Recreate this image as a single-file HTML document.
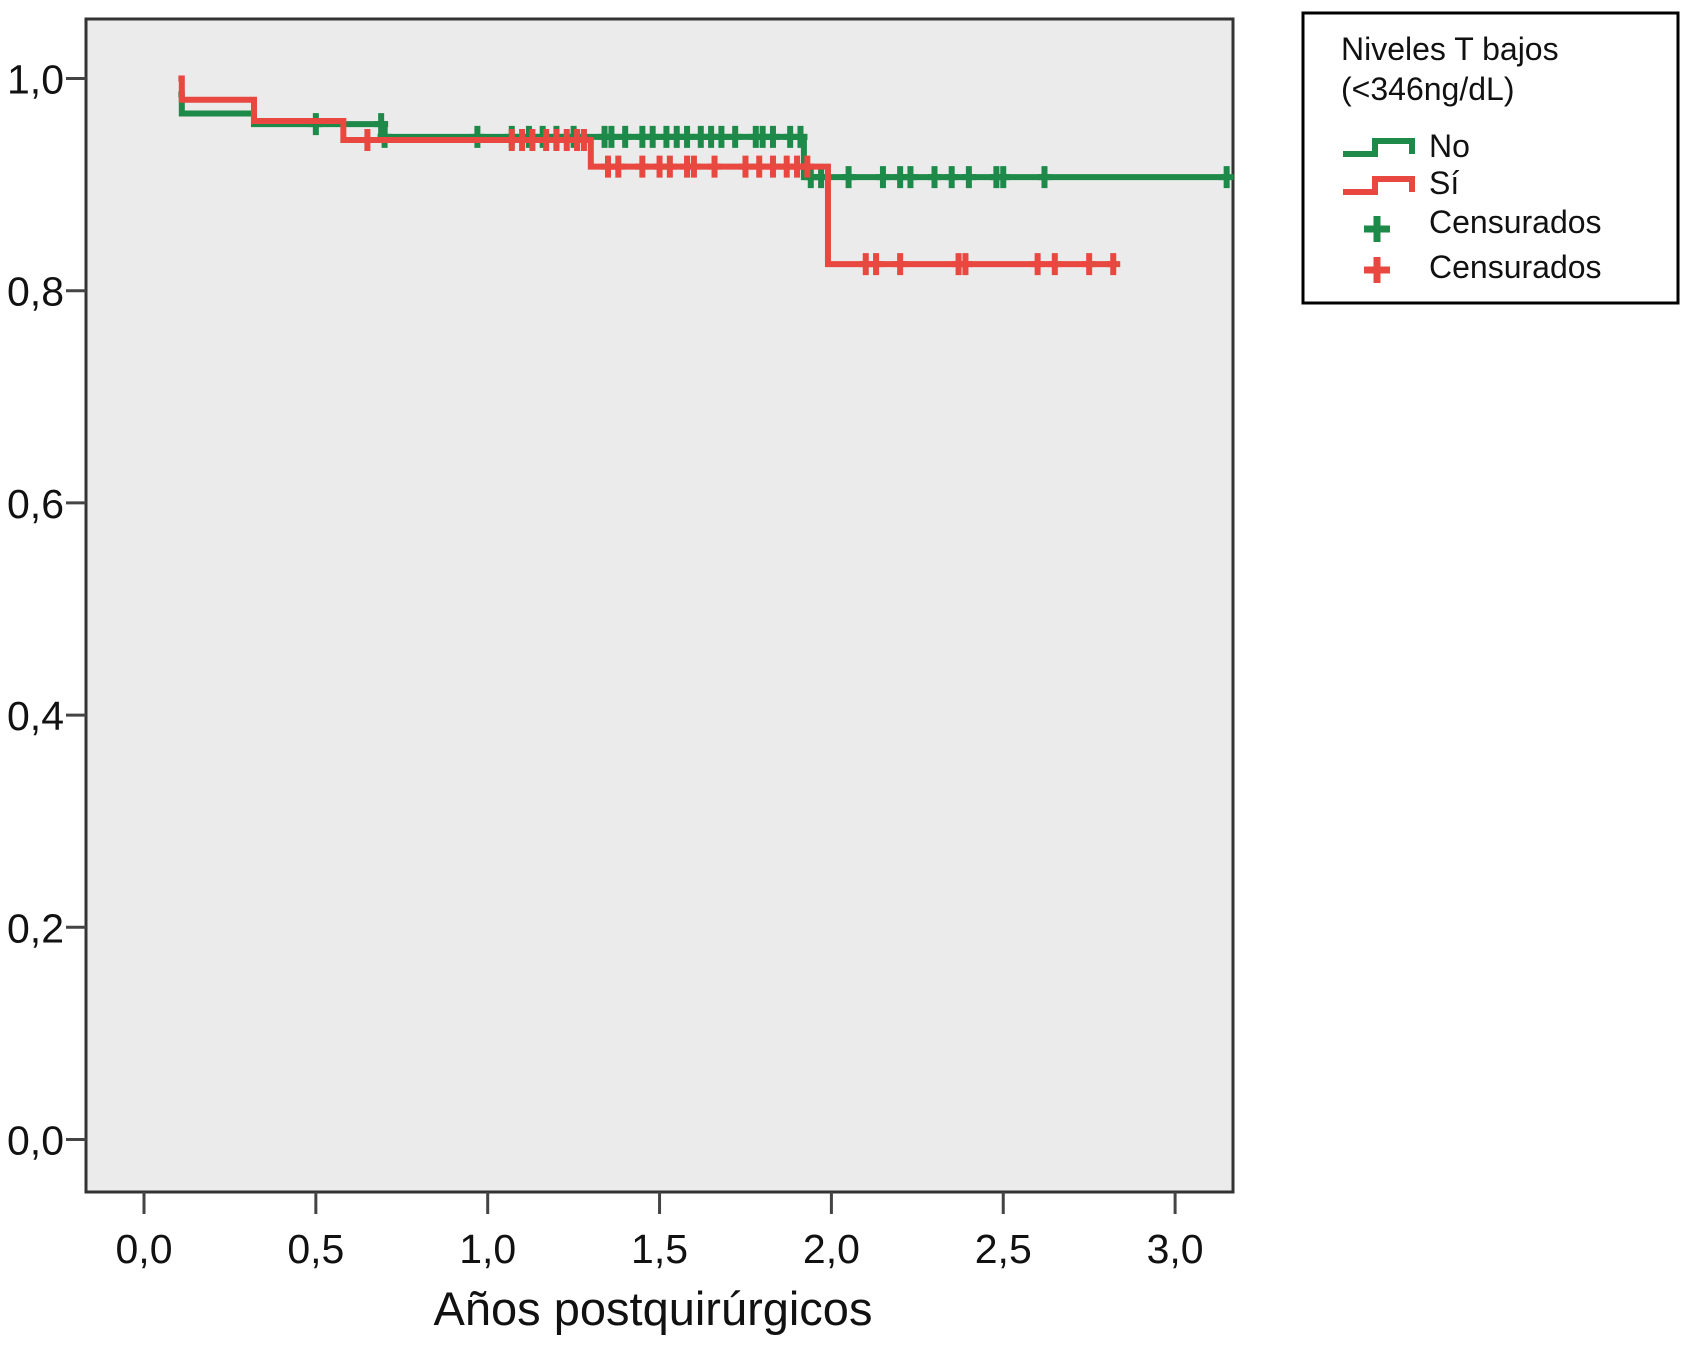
<!DOCTYPE html>
<html><head><meta charset="utf-8"><style>
body{margin:0;background:#fff;}
svg{display:block;font-family:"Liberation Sans",Arial,sans-serif;}
</style></head><body>
<svg id="chart" width="1681" height="1346" viewBox="0 0 1681 1346">
<rect x="86" y="19" width="1147" height="1173" fill="#ebebeb" stroke="#333" stroke-width="3"/>
<g id="axes"></g>
<g id="series"></g>
<text x="653" y="1325" font-size="47" text-anchor="middle" fill="#111">Años postquirúrgicos</text>
<g>
<rect x="1303" y="13" width="375" height="290" fill="#fff" stroke="#000" stroke-width="3"/>
<text x="1341" y="60" font-size="32" fill="#111">Niveles T bajos</text>
<text x="1341" y="100" font-size="32" fill="#111">(&lt;346ng/dL)</text>
<path d="M1343 154 H1375 V141 H1412 V154" fill="none" stroke="#1e8a4a" stroke-width="6"/>
<text x="1429" y="157" font-size="32" fill="#111">No</text>
<path d="M1343 192 H1375 V179 H1412 V192" fill="none" stroke="#e8483f" stroke-width="6"/>
<text x="1429" y="194" font-size="32" fill="#111">Sí</text>
<path d="M1377 216 V242 M1364 229 H1390" stroke="#1e8a4a" stroke-width="7"/>
<text x="1429" y="233" font-size="32" fill="#111">Censurados</text>
<path d="M1377 257 V283 M1364 270 H1390" stroke="#e8483f" stroke-width="7"/>
<text x="1429" y="278" font-size="32" fill="#111">Censurados</text>
</g>
</svg>
<script>
const xTicks=[0,0.5,1,1.5,2,2.5,3];
const xTickLabels=["0,0","0,5","1,0","1,5","2,0","2,5","3,0"];
const yTicks=[0,0.2,0.4,0.6,0.8,1.0];
const yTickLabels=["0,0","0,2","0,4","0,6","0,8","1,0"];
const noTimes=[0.1,0.11,0.32,0.70,1.92,3.15];
const noSurv=[0.985,0.967,0.957,0.945,0.907,0.907];
const siTimes=[0.1,0.11,0.32,0.58,1.30,1.99,2.83];
const siSurv=[1.0,0.98,0.96,0.942,0.917,0.825,0.825];
const noCensT=[0.5,0.69,0.7,0.97,1.07,1.12,1.16,1.2,1.25,1.34,1.36,1.4,1.45,1.48,1.52,1.55,1.58,1.62,1.65,1.68,1.72,1.78,1.8,1.83,1.88,1.91,1.94,1.97,2.05,2.15,2.2,2.23,2.3,2.35,2.4,2.48,2.5,2.62,3.15];
const siCensT=[0.65,1.07,1.1,1.13,1.17,1.2,1.23,1.26,1.28,1.35,1.38,1.45,1.5,1.53,1.58,1.6,1.66,1.75,1.79,1.83,1.87,1.9,1.93,2.1,2.13,2.2,2.37,2.39,2.6,2.65,2.75,2.82];
const X=v=>144+v*343.7, Y=v=>1139.5-v*1061;
const ns="http://www.w3.org/2000/svg";
const ax=document.getElementById('axes'), sr=document.getElementById('series');
function mk(tag,attrs,parent){const e=document.createElementNS(ns,tag);for(const k in attrs)e.setAttribute(k,attrs[k]);parent.appendChild(e);return e;}
xTicks.forEach((t,i)=>{
 const l=mk('line',{x1:X(t),x2:X(t),y1:1192,y2:1214,stroke:'#444','stroke-width':3},ax);
 
 
 const tx=mk('text',{x:X(t),y:1263,'font-size':41,'text-anchor':'middle',fill:'#111'},ax);
 tx.textContent=xTickLabels[i];
 
 
});
yTicks.forEach((t,i)=>{
 const l=mk('line',{x1:66,x2:86,y1:Y(t),y2:Y(t),stroke:'#444','stroke-width':3},ax);
 
 
 const tx=mk('text',{x:64,y:Y(t)+15,'font-size':41,'text-anchor':'end',fill:'#111'},ax);
 tx.textContent=yTickLabels[i];
 
 
});
function stepPath(ts,ss){let d='M'+X(ts[0])+' '+Y(ss[0]);for(let i=1;i<ts.length;i++){d+=' H'+X(ts[i])+' V'+Y(ss[i]);}return d;}
function survAt(ts,ss,t){let s=ss[0];for(let i=0;i<ts.length;i++){if(ts[i]<=t)s=ss[i];}return s;}
function drawSeries(ts,ss,cs,color,name){
 const p=mk('path',{d:stepPath(ts,ss),fill:'none',stroke:color,'stroke-width':6},sr);
 
 
 cs.forEach(t=>{
  const y=Y(survAt(ts,ss,t)),x=X(t);
  const c=mk('path',{d:`M${x} ${y-11} V${y+11} M${x-7} ${y} H${x+7}`,stroke:color,'stroke-width':6},sr);
  
  
 });
}
drawSeries(noTimes,noSurv,noCensT,'#1e8a4a','no-group');
drawSeries(siTimes,siSurv,siCensT,'#e8483f','si-group');
</script>
</body></html>
